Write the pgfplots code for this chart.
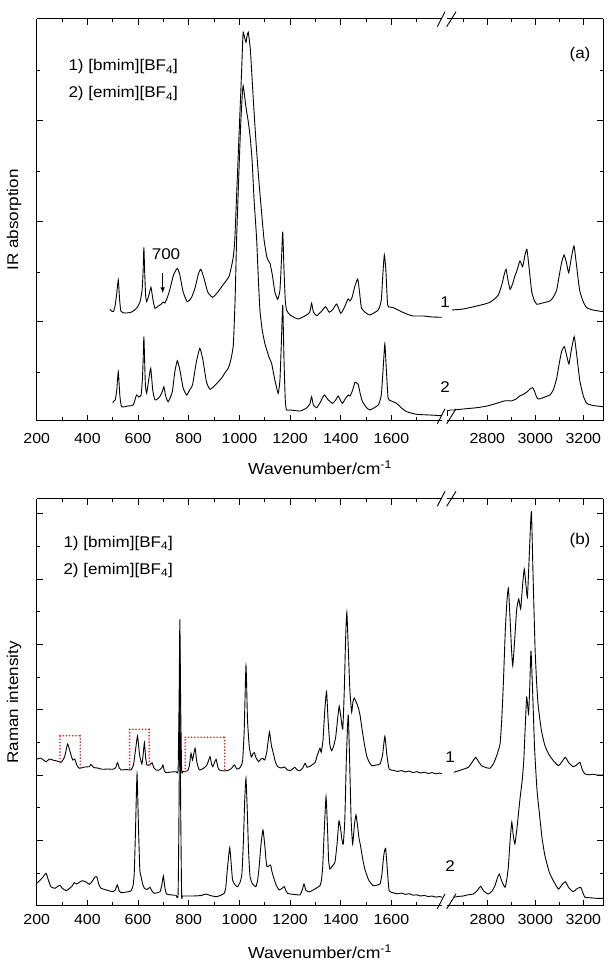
\documentclass[border=0pt]{standalone}
\usepackage{fontspec}
\setmainfont[FakeStretch=1.1]{Liberation Sans}
\usepackage{pgfplots}
\pgfplotsset{compat=1.18}
\usetikzlibrary{arrows.meta}
\definecolor{boxred}{RGB}{240,30,30}
\tikzset{rb/.style={color=boxred, line width=1.8pt, line cap=round, dash pattern=on 0pt off 3.2pt}}
\pgfplotsset{
 spec/.style={scale only axis, axis x line=box,
   major tick length=6pt, minor tick length=3.5pt,
   every tick/.style={line width=0.9pt, black},
   xticklabel style={font=\fontsize{14.5}{15}\selectfont},
   yticklabels={}, clip=true},
 leftpart/.style={spec, axis y line=left, xmin=200, xmax=1800, width=405.4pt,
   xtick={200,400,...,1600}, xticklabels={200,400,600,800,1000,1200,1400,1600},
   minor xtick={300,500,...,1700}},
 rightpart/.style={spec, axis y line=right, xmin=2632, xmax=3282, width=156pt,
   xtick={2800,3000,3200}, xticklabels={2800,3000,3200},
   minor xtick={2700,2900,3100}},
 panA/.style={ymin=0, ymax=402, height=402pt, ytick={99.5,200,300.5}, minor ytick={48.5,149,250,351},
   xticklabel style={yshift=-9pt}},
 panB/.style={ymin=0, ymax=407, height=407pt, ytick={65.4,130.8,196.2,261.6,327,392.4},
   minor ytick={32.7,98.1,163.5,228.9,294.3,359.7}, xticklabel style={yshift=-5pt}},
 fin/.style={axis line style={-, line width=1pt}, tick align=inside},
 sp/.style={black, line width=0.9pt, no marks, smooth, tension=0.3},
}
\begin{document}
\begin{tikzpicture}
\useasboundingbox (0,0) rectangle (608pt,961pt);
% ---------------- panel (a) left
\begin{axis}[leftpart, panA, fin, at={(36.7pt,540pt)}, anchor=south west]
\addplot[sp] coordinates {(489,111.7)(495,110)(503,109.5)(510,116)(516,128)(522,141)(527,122)(532,110)(540,108.3)(555,108)(575,109)(595,113)(608,119.3)(616,131)(620,150)(623,173.7)(626,150)(630,125)(634,119.3)(643,126)(651,133.7)(659,121)(667,112.7)(680,115)(692,117)(700,119)(706,118)(715,123)(725,131)(740,146)(755,152.7)(765,146)(778,129)(794,119.3)(810,123)(825,133)(838,147)(848,151.7)(860,143)(875,129)(894,123.7)(915,129)(935,136)(950,141)(960,145)(970,156)(976,164.3)(982,182)(990,232)(1000,295)(1008,345)(1013,380)(1015,388.7)(1020,384)(1026,378.7)(1031,386)(1035,388.7)(1040,379)(1044,368.7)(1055,321)(1065,281)(1075,246)(1085,216)(1097,182)(1108,164.3)(1115,160)(1121,157.7)(1130,146)(1140,129)(1151,121.7)(1160,131)(1166,161)(1171,189.3)(1176,151)(1181,121)(1186,111)(1200,106)(1232,102)(1265,106)(1278,109)(1285,117.7)(1292,109)(1305,105.3)(1325,110)(1340,114.3)(1355,108.7)(1370,112)(1384,117)(1400,107.7)(1415,114)(1425,120)(1430,122)(1437,120)(1445,124)(1455,134)(1467,142)(1474,129)(1482,112.7)(1500,108)(1515,106)(1548,111)(1560,121)(1566,146)(1572,166)(1578,151)(1585,116)(1595,114)(1607,113.3)(1634,110)(1660,107)(1686,105)(1726,105)(1760,104)(1800,103.7)};
\addplot[sp] coordinates {(500,18.3)(505,20)(510,21)(516,31)(522,49.3)(528,26)(535,14.3)(560,15)(581,16)(594,26)(603,24)(612,26)(617,41)(620,60)(623,84.3)(626,60)(629,36)(634,27.7)(642,41)(650,52.7)(658,31)(667,21)(685,24)(695,29)(702,34.3)(709,25)(719,19.3)(735,29)(745,49)(755,60.3)(765,51)(778,33)(792,26)(805,31.7)(815,36)(830,59)(844,72.7)(856,61)(870,39)(884,31.7)(905,36)(930,43)(945,49)(956,52.7)(966,61)(976,76)(983,121)(989,182)(997,241)(1005,296)(1012,329)(1015,335.3)(1020,326)(1026,313.7)(1034,301)(1042,285.3)(1050,261)(1058,221)(1068,182)(1075,141)(1081,111)(1090,91)(1100,78)(1108,71)(1118,63)(1127,57.7)(1140,41)(1153,27.7)(1160,41)(1166,81)(1171,116)(1176,61)(1181,21)(1186,11)(1200,11)(1240,10)(1265,13)(1278,17)(1285,24.3)(1292,16)(1305,13.3)(1320,19)(1335,26)(1351,21)(1368,17.7)(1380,21)(1390,25)(1400,20)(1407,17.7)(1420,23)(1430,26)(1437,25)(1447,31)(1456,38.7)(1463,38)(1469,36.7)(1478,26)(1486,19.3)(1500,14)(1515,11)(1548,16)(1560,26)(1567,51)(1574,77)(1580,51)(1587,22.7)(1600,20)(1620,17.7)(1640,13)(1660,9.3)(1699,6.7)(1750,6)(1800,5.3)};
\end{axis}
% ---------------- panel (a) right
\begin{axis}[rightpart, panA, fin, at={(447pt,540pt)}, anchor=south west]
\addplot[sp] coordinates {(2652,111)(2700,112)(2756,115)(2790,117)(2811,118.7)(2830,122)(2846,126)(2860,136)(2870,146)(2878,151.7)(2886,141)(2895,131.7)(2905,137)(2915,145)(2922,149.3)(2936,160)(2947,154.3)(2957,166)(2965,171.7)(2975,151)(2985,129.3)(2995,121)(3006,116.7)(3030,118)(3061,120)(3075,124)(3089,131)(3100,146)(3110,159)(3120,166)(3130,158)(3139,148.3)(3150,163)(3161,175)(3170,159)(3180,139)(3186,129.3)(3200,119)(3214,113.3)(3240,111)(3282,109.3)};
\addplot[black, line width=0.9pt, no marks] coordinates {(2632,5.3)(2632,11)(2645,11)};
\addplot[sp] coordinates {(2645,11)(2660,11)(2700,12)(2756,13.3)(2800,15)(2839,17.7)(2870,20)(2887,20.3)(2900,20)(2920,22)(2935,25)(2950,26.7)(2965,29)(2978,32)(2989,33.3)(2998,29)(3005,24)(3012,22)(3030,23)(3050,25)(3061,26)(3075,31)(3089,42.7)(3100,58)(3110,70)(3121,74.3)(3130,66)(3140,57)(3150,71)(3162,84.3)(3170,71)(3180,51)(3186,39.3)(3200,25)(3214,17.7)(3240,15.5)(3282,14.3)};
\end{axis}
% ---------------- panel (b) left
\begin{axis}[leftpart, panB, fin, at={(36.7pt,55pt)}, anchor=south west]
\addplot[sp] coordinates {(200,146.7)(215,148)(237,144.3)(250,147)(263,146)(280,145)(296,143.7)(310,149)(322,162)(332,154)(342,146)(350,147)(358,141)(368,137.7)(390,139)(408,139.3)(414,141.7)(425,138.5)(440,138)(460,136.7)(480,137)(500,136.7)(511,138)(519,143.3)(526,138)(533,136)(555,136.5)(572,136)(582,141)(590,156)(598,170)(606,151)(615,142)(620,151)(625,163.3)(630,148)(635,141)(645,141)(655,143.3)(663,138)(671,136)(685,136)(693,138)(698,141)(704,135)(710,133.3)(730,134)(750,134.3)(758,136)(762,206)(765,286.7)(768,206)(772,136)(776,134.3)(796,135.3)(803,141)(809,152.7)(815,146)(825,157.7)(832,144)(842,136)(860,138)(872,141)(884,149.3)(890,142)(895,139.3)(901,143)(908,146.7)(915,139)(921,136)(940,135)(960,136)(970,138)(980,141)(990,137)(1000,137.7)(1008,141)(1013,146)(1019,176)(1026,240.3)(1032,186)(1039,159.3)(1047,149)(1053,152)(1059,153.3)(1066,148)(1076,144.3)(1085,147)(1092,147.7)(1100,146)(1108,154)(1114,166)(1119,174)(1126,161)(1134,152.7)(1142,144)(1151,139.3)(1165,138)(1177,139)(1190,136)(1200,135.3)(1210,137)(1219,138.7)(1228,136)(1239,135.3)(1250,138)(1259,142.7)(1267,138.7)(1280,140)(1292,142)(1300,144)(1305,148.7)(1312,154)(1318,157.7)(1323,153.7)(1330,166)(1337,196)(1344,214.3)(1350,186)(1357,161)(1364,155.3)(1372,160)(1380,169)(1388,188)(1394,199.7)(1401,188)(1408,177)(1414,216)(1419,266)(1424,293.7)(1430,256)(1436,216)(1443,193.7)(1448,204)(1453,208)(1461,204)(1469,198.7)(1476,191)(1482,180.3)(1492,164)(1502,150.3)(1512,144)(1522,140.3)(1540,141)(1555,142)(1565,151)(1574,169.7)(1582,151)(1591,137)(1610,135.5)(1625,134.6)(1640,135.4)(1655,134)(1670,135)(1685,133.4)(1700,134.3)(1715,133)(1730,133.8)(1745,132.5)(1760,133.4)(1775,132.2)(1790,132.9)(1800,132)};
\addplot[sp] coordinates {(200,22.7)(210,25)(225,29)(237,32.7)(246,26)(256,19.3)(272,17.7)(285,20)(292,20.7)(300,18)(316,15.3)(330,17.7)(340,20)(348,23.3)(358,22)(370,24)(381,25.3)(395,24)(408,21.7)(420,25)(430,29)(437,29.3)(446,21)(454,17.7)(475,16)(500,14.3)(510,16)(518,21)(526,15)(533,13.3)(555,14)(572,15)(580,20)(585,32.7)(590,76)(596,132)(602,76)(607,36)(612,29.3)(618,22)(625,17.7)(636,16.5)(647,18.7)(655,15)(664,12.7)(680,13.5)(687,14.3)(694,21)(700,30)(706,18)(713,12)(735,11)(750,10.7)(758,12)(762,106)(765,256)(768,106)(772,11)(776,10)(816,10)(850,10.5)(868,12)(885,10.5)(908,9.3)(925,10.5)(940,12.7)(946,18)(951,32.7)(956,46)(962,58.3)(968,41)(973,26)(983,21)(993,19.3)(1003,24)(1010,32.7)(1016,66)(1021,106)(1026,127.7)(1031,96)(1036,56)(1042,29.3)(1052,22)(1065,19.3)(1072,26)(1078,39.3)(1085,61)(1093,76)(1100,61)(1105,46)(1109,39.3)(1116,40)(1123,41)(1128,35)(1134,29.3)(1145,21)(1157,16)(1170,18)(1177,19.3)(1184,15)(1190,12.7)(1200,12)(1220,11.5)(1239,11)(1248,16)(1255,22)(1262,16)(1275,14)(1298,17)(1310,19)(1318,20.3)(1324,26)(1329,40.3)(1335,76)(1342,109.3)(1348,76)(1352,46)(1357,37)(1367,40)(1377,43.7)(1385,61)(1393,85)(1400,76)(1405,66)(1410,62)(1416,86)(1422,146)(1427,181)(1430,190.3)(1435,146)(1441,86)(1447,62)(1454,81)(1460,91)(1466,81)(1472,68)(1478,60.3)(1486,48)(1495,37)(1510,26)(1528,20.3)(1545,21)(1555,22)(1562,31)(1570,51)(1577,57.7)(1584,36)(1591,15.3)(1610,13)(1625,12.2)(1640,12.9)(1655,11.6)(1670,12.3)(1685,10.8)(1700,11.2)(1715,10)(1730,10.6)(1745,9.4)(1760,10)(1775,8.9)(1790,9.5)(1800,8.7)};
\draw[rb] (axis cs:292,144.3) -- (axis cs:292,170.3);
\draw[rb] (axis cs:292,170.3) -- (axis cs:372,170.3);
\draw[rb] (axis cs:372,170.3) -- (axis cs:372,137.7);
\draw[rb] (axis cs:567,138) -- (axis cs:567,176.7);
\draw[rb] (axis cs:567,176.7) -- (axis cs:644,176.7);
\draw[rb] (axis cs:644,176.7) -- (axis cs:644,141);
\draw[rb] (axis cs:786,134.3) -- (axis cs:786,168.7);
\draw[rb] (axis cs:786,168.7) -- (axis cs:942,168.7);
\draw[rb] (axis cs:942,168.7) -- (axis cs:942,134.3);
\end{axis}
% ---------------- panel (b) right
\begin{axis}[rightpart, panB, fin, at={(447pt,55pt)}, anchor=south west]
\addplot[sp] coordinates {(2661,133.7)(2690,136)(2721,138.7)(2740,145)(2751,148.7)(2762,145)(2776,140.3)(2800,138)(2811,137.7)(2825,142)(2839,150.3)(2853,162)(2860,186)(2867,223.7)(2875,276)(2882,306)(2888,317.7)(2895,286)(2901,256)(2906,240.3)(2914,266)(2922,296)(2931,307)(2939,297)(2947,321)(2954,337)(2961,321)(2967,308.7)(2974,346)(2980,381)(2984,394.3)(2990,336)(2999,257)(3006,221)(3012,200.3)(3025,176)(3040,160.3)(3058,151)(3075,145.3)(3096,140.3)(3110,144)(3125,148.7)(3140,143)(3158,139.3)(3172,141)(3186,143.7)(3196,136)(3207,132)(3225,131.2)(3240,131.8)(3260,130.8)(3282,131)};
\addplot[sp] coordinates {(2661,8.7)(2680,9.6)(2700,10)(2720,11.2)(2742,12)(2760,16)(2772,19.7)(2785,15)(2804,12)(2820,15)(2832,20.3)(2842,28)(2850,32)(2860,25)(2874,18.7)(2882,28)(2888,40.3)(2895,66)(2902,83.7)(2908,71)(2915,62)(2925,81)(2936,107)(2946,127)(2952,146)(2957,173.7)(2964,208.7)(2972,192)(2977,221)(2982,255.3)(2990,206)(2997,157)(3007,116)(3018,90.3)(3028,68)(3040,50.3)(3058,34)(3075,25.3)(3096,17)(3110,21)(3125,24.3)(3140,18)(3158,14.3)(3172,17)(3189,18.7)(3200,12)(3207,8.7)(3225,8.3)(3240,8)(3260,7.6)(3282,7.7)};
\end{axis}
% ---------------- break marks
\foreach \yy in {537.2, 934.3, 52.2, 454.7}{
  \draw[line width=0.9pt] (437.3pt,\yy pt) -- (445pt,{(\yy+15)*1pt});
  \draw[line width=0.9pt] (446.7pt,\yy pt) -- (456pt,{(\yy+15)*1pt});
}
% ---------------- texts
\tikzset{lab/.style={font=\fontsize{15.5}{17}\selectfont, inner sep=0pt}}
\node[lab, anchor=base west] at (68.3pt,890.3pt) {1) [bmim][BF\textsubscript{4}]};
\node[lab, anchor=base west] at (68.3pt,863.3pt) {2) [emim][BF\textsubscript{4}]};
\node[lab, anchor=base west] at (63.3pt,413.7pt) {1) [bmim][BF\textsubscript{4}]};
\node[lab, anchor=base west] at (63.3pt,386.7pt) {2) [emim][BF\textsubscript{4}]};
\node[lab] at (580pt,906pt) {(a)};
\node[lab] at (580pt,420.3pt) {(b)};
\node[lab] at (445pt,659.3pt) {1};
\node[lab] at (445pt,574pt) {2};
\node[lab] at (450pt,203.7pt) {1};
\node[lab] at (450pt,95.3pt) {2};
\node[lab, anchor=base] at (166pt,701.7pt) {700};
\draw[line width=0.9pt, -{Latex[length=6pt,width=4.5pt]}] (162.7pt,687.7pt) -- (162.7pt,667.7pt);
\node[lab, rotate=90] at (14pt,741pt) {IR absorption};
\node[lab, rotate=90] at (14pt,258.5pt) {Raman intensity};
\node[lab, anchor=base, font=\fontsize{16}{17}\selectfont] at (320pt,486pt) {Wavenumber/cm\textsuperscript{-1}};
\node[lab, anchor=base, font=\fontsize{16}{17}\selectfont] at (320pt,2pt) {Wavenumber/cm\textsuperscript{-1}};
\end{tikzpicture}
\end{document}
